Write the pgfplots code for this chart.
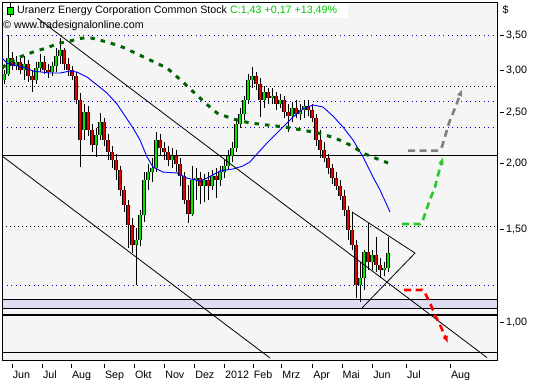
\documentclass[border=0pt]{standalone}
\usepackage{fontspec}
\setmainfont{Liberation Sans}
\usepackage{pgfplots}
\pgfplotsset{compat=1.18}
\usepackage{pgfplotstable}
\usetikzlibrary{arrows.meta}
\definecolor{bgcol}{RGB}{245,245,245}
\definecolor{upcol}{RGB}{0,230,0}
\definecolor{dncol}{RGB}{235,0,0}
\definecolor{macol}{RGB}{0,0,255}
\definecolor{matwo}{RGB}{0,100,0}
\definecolor{gridblue}{RGB}{0,0,220}
\definecolor{bandcol}{RGB}{222,222,242}
\definecolor{titlegreen}{RGB}{0,200,0}
\definecolor{projgray}{RGB}{128,128,128}
\definecolor{projgreen}{RGB}{40,200,40}
\definecolor{projred}{RGB}{255,0,0}

\pgfplotstableread{
x o h l c
4 2.877 3.005 2.827 2.953
8 2.953 3.500 2.928 3.167
12 3.167 3.251 3.005 3.059
16 3.059 3.195 3.005 3.113
20 3.113 3.167 2.953 3.005
24 3.005 3.195 2.877 3.085
28 3.085 3.140 2.852 2.928
32 2.928 3.005 2.730 2.877
36 2.877 3.113 2.827 3.032
40 3.032 3.223 2.979 3.113
44 3.113 3.195 2.953 3.005
48 3.005 3.085 2.902 2.979
52 2.979 3.113 2.928 3.059
56 3.059 3.308 2.979 3.195
60 3.195 3.454 3.085 3.280
64 3.280 3.308 3.005 3.085
68 3.085 3.167 2.928 3.005
72 3.005 3.059 2.877 2.928
76 2.928 2.979 2.591 2.636
80 2.636 2.718 1.968 2.214
84 2.313 2.591 2.214 2.502
88 2.502 2.568 2.253 2.313
92 2.313 2.374 2.101 2.166
96 2.166 2.333 2.056 2.263
100 2.263 2.491 2.214 2.395
104 2.395 2.437 2.157 2.214
108 2.214 2.273 2.029 2.101
112 2.101 2.157 1.960 2.029
116 2.029 2.083 1.859 1.942
120 1.942 1.977 1.734 1.780
124 1.780 1.811 1.617 1.667
128 1.667 1.704 1.382 1.527
132 1.527 1.575 1.351 1.400
136 1.400 1.507 1.175 1.431
140 1.431 1.631 1.394 1.596
144 1.596 1.925 1.548 1.859
148 1.859 1.994 1.780 1.925
152 1.925 2.047 1.843 1.960
156 1.960 2.293 1.925 2.214
160 2.214 2.273 2.065 2.138
164 2.138 2.195 2.029 2.101
168 2.101 2.157 1.977 2.029
172 2.029 2.138 1.960 2.065
176 2.065 2.119 1.925 1.994
180 1.994 2.047 1.811 1.892
184 1.892 1.925 1.674 1.704
188 1.704 1.819 1.541 1.603
192 1.603 1.977 1.589 1.859
196 1.859 1.960 1.704 1.875
200 1.875 1.925 1.674 1.811
204 1.811 1.909 1.689 1.859
208 1.859 1.925 1.704 1.811
212 1.811 1.942 1.780 1.892
216 1.892 1.960 1.719 1.859
220 1.859 1.977 1.811 1.925
224 1.925 2.029 1.875 1.977
228 1.977 2.119 1.942 2.065
232 2.065 2.195 2.012 2.138
236 2.138 2.437 2.101 2.374
240 2.374 2.546 2.333 2.480
244 2.480 2.683 2.416 2.636
248 2.636 2.953 2.591 2.877
252 2.877 3.045 2.778 2.928
256 2.928 2.979 2.754 2.827
260 2.827 2.902 2.448 2.636
264 2.636 2.803 2.546 2.730
268 2.730 2.778 2.591 2.659
272 2.659 2.778 2.591 2.683
276 2.683 2.730 2.524 2.591
280 2.591 2.707 2.546 2.636
284 2.636 2.683 2.437 2.502
288 2.502 2.591 2.293 2.458
292 2.458 2.613 2.395 2.546
296 2.546 2.636 2.437 2.480
300 2.480 2.591 2.416 2.524
304 2.524 2.636 2.437 2.568
308 2.568 2.636 2.458 2.524
312 2.524 2.591 2.395 2.437
316 2.437 2.480 2.157 2.214
320 2.214 2.313 2.047 2.119
324 2.119 2.195 2.012 2.047
328 2.047 2.083 1.909 1.960
332 1.960 1.994 1.827 1.875
336 1.875 1.925 1.780 1.811
340 1.811 1.859 1.704 1.734
344 1.734 1.780 1.589 1.631
348 1.631 1.660 1.431 1.494
352 1.494 1.617 1.369 1.400
356 1.400 1.431 1.110 1.175
360 1.175 1.300 1.091 1.212
364 1.212 1.369 1.150 1.357
368 1.357 1.541 1.255 1.300
372 1.300 1.369 1.255 1.340
376 1.340 1.449 1.244 1.283
380 1.283 1.322 1.212 1.255
384 1.255 1.300 1.223 1.266
388 1.266 1.449 1.244 1.351
}\candles

\begin{document}
\begin{tikzpicture}
\fill[white] (0,0) rectangle (540bp,-380bp);
\useasboundingbox (0,0) rectangle (540bp,-380bp);
\begin{axis}[
  at={(2bp,-2bp)}, anchor=north west,
  scale only axis, width=495bp, height=358bp,
  xmin=2, xmax=497, ymode=log, ymin=0.847, ymax=4.045,
  axis background/.style={fill=bgcol},
  axis line style={line width=0.8bp},
  xtick={12.1,42.4,71.3,104.3,134.3,164.6,194.6,224.5,253.1,281.7,312.7,341.9,372.6,406.3,450.4},
  xticklabels={Jun,Jul,Aug,Sep,Okt,Nov,Dez,2012,Feb,Mrz,Apr,Mai,Jun,Jul,Aug},
  ytick={1,1.5,2,2.5,3,3.5},
  yticklabels={{1,00},{1,50},{2,00},{2,50},{3,00},{3,50}},
  yticklabel pos=right, ytick pos=right, xtick pos=left,
  tick align=outside, major tick length=4bp,
  every major x tick/.append style={yshift=-4bp},
  every major y tick/.append style={xshift=3bp},
  tick style={black, line width=0.6bp},
  minor tick style={draw=none},
  ticklabel style={font=\fontsize{10.7bp}{12bp}\selectfont, inner sep=0pt},
  xticklabel style={anchor=north west, xshift=0.5bp, yshift=-7bp},
  yticklabel style={anchor=west, xshift=5bp},
  candle/.style={draw=none, no marks, forget plot,
    error bars/.cd, y dir=plus, y explicit, error mark=none},
]
% horizontal levels
\addplot[black, line width=0.9bp, dash pattern=on 1bp off 3bp] coordinates {(2,2.803) (497,2.803)};
\addplot[black, line width=0.9bp, dash pattern=on 1bp off 3bp] coordinates {(2,1.516) (497,1.516)};
\addplot[gridblue, line width=0.9bp, dash pattern=on 1bp off 3.5bp] coordinates {(2,3.5) (497,3.5)};
\addplot[gridblue, line width=0.9bp, dash pattern=on 1bp off 3.5bp] coordinates {(2,2.625) (497,2.625)};
\addplot[gridblue, line width=0.9bp, dash pattern=on 1bp off 3.5bp] coordinates {(2,2.340) (497,2.340)};
\addplot[gridblue, line width=0.9bp, dash pattern=on 1bp off 3.5bp] coordinates {(2,1.175) (497,1.175)};
\addplot[black, line width=1bp] coordinates {(2,2.065) (497,2.065)};
\addplot[fill=bandcol, draw=black, line width=0.8bp] coordinates {(2,1.060) (497,1.060) (497,1.104) (2,1.104)} -- cycle;
\addplot[black, line width=2bp] coordinates {(2,1.031) (497,1.031)};
\addplot[black, line width=0.9bp] coordinates {(2,0.877) (497,0.877)};
% candles: wicks
\addplot[candle, error bar style={draw=black, line width=0.9bp}]
  table[x=x, y=l, y error expr=\thisrow{h}-\thisrow{l}] {\candles};
% candle bodies outline
\addplot[candle, error bar style={draw=black, line width=3.8bp}]
  table[x=x, y expr={min(\thisrow{o},\thisrow{c})}, y error expr={abs(\thisrow{c}-\thisrow{o})}] {\candles};
% up bodies
\addplot[restrict expr to domain={\thisrow{c}-\thisrow{o}}{0:100},
  candle, error bar style={draw=upcol, line width=2bp}]
  table[x=x, y expr={min(\thisrow{o},\thisrow{c})}, y error expr={abs(\thisrow{c}-\thisrow{o})}] {\candles};
% down bodies
\addplot[restrict expr to domain={\thisrow{c}-\thisrow{o}}{-100:0},
  candle, error bar style={draw=dncol, line width=2bp}]
  table[x=x, y expr={min(\thisrow{o},\thisrow{c})}, y error expr={abs(\thisrow{c}-\thisrow{o})}] {\candles};
% moving averages
\addplot[macol, line width=0.9bp] coordinates {
(2,3.167) (7,3.099) (13,3.072) (23,3.045) (33,2.992) (50,2.966) (60,2.966) (70,2.992) (77,2.979)
(87,2.915) (97,2.815) (107,2.718) (117,2.591) (123,2.491) (133,2.333) (140,2.214) (147,2.056)
(153,1.968) (163,1.925) (177,1.917) (187,1.875) (200,1.851) (207,1.875) (220,1.934) (233,1.951)
(243,1.977) (250,2.012) (257,2.083) (267,2.185) (280,2.313) (293,2.448) (303,2.535) (313,2.580)
(323,2.557) (333,2.458) (343,2.343) (353,2.214) (363,2.056) (373,1.884) (380,1.780) (390,1.617)};
\addplot[matwo, line width=3bp, dash pattern=on 4.5bp off 6bp] coordinates {
(2,3.032) (10,3.113) (20,3.181) (33,3.251) (43,3.294) (60,3.381) (70,3.411) (82,3.454) (92,3.454)
(100,3.426) (110,3.381) (117,3.352) (125,3.308) (133,3.251) (150,3.140) (167,3.032) (183,2.852)
(190,2.766) (197,2.695) (203,2.624) (210,2.557) (217,2.491) (233,2.426) (250,2.385) (267,2.364)
(285,2.343) (302,2.313) (318,2.283) (335,2.234) (350,2.166) (365,2.083) (380,2.029) (388,2.003)};
% trend lines
\addplot[black, line width=0.8bp] coordinates {(36,3.788) (487,0.856)};
\addplot[black, line width=0.8bp] coordinates {(2,2.065) (270,0.8545)};
\addplot[black, line width=0.8bp] coordinates {(352,1.617) (415,1.351) (362,1.063)};
% projections
\addplot[projgray, line width=2.6bp, dash pattern=on 7bp off 4.5bp, -{Latex[length=7bp,width=6bp]}] coordinates {
(408,2.113) (438,2.113) (442,2.150) (445,2.246) (449,2.385) (453,2.491) (457,2.602) (462,2.763)};
\addplot[projgreen, line width=2.6bp, dash pattern=on 7bp off 4.5bp, -{Latex[length=7bp,width=6bp]}] coordinates {
(402,1.534) (420,1.534) (423,1.561) (427,1.645) (431,1.726) (435,1.803) (438,1.900) (443,2.055)};
\addplot[projred, line width=2.6bp, dash pattern=on 7bp off 4.5bp, -{Latex[length=7bp,width=6bp]}] coordinates {
(404,1.150) (422,1.150) (425,1.135) (430,1.087) (435,1.031) (441,0.978) (448,0.912)};
\end{axis}
% title block
\fill[white] (3bp,-3bp) rectangle (348bp,-18bp);
\draw[black, line width=0.8bp] (10.3bp,-3bp) -- (10.3bp,-17bp);
\filldraw[fill=upcol, draw=black, line width=0.8bp] (7.5bp,-7.3bp) rectangle (13bp,-14bp);
\node[anchor=base west, inner sep=0pt, font=\fontsize{10.7bp}{12bp}\selectfont] at (17bp,-13.3bp)
  {Uranerz Energy Corporation Common Stock \textcolor{titlegreen}{C:1,43 +0,17 +13,49\%}};
\node[anchor=base west, inner sep=0pt, font=\fontsize{10.7bp}{12bp}\selectfont] at (3bp,-28.7bp)
  {© www.tradesignalonline.com};
\node[anchor=base west, inner sep=0pt, font=\fontsize{10.7bp}{12bp}\selectfont] at (502.5bp,-13bp) {\$};
\end{tikzpicture}
\end{document}
